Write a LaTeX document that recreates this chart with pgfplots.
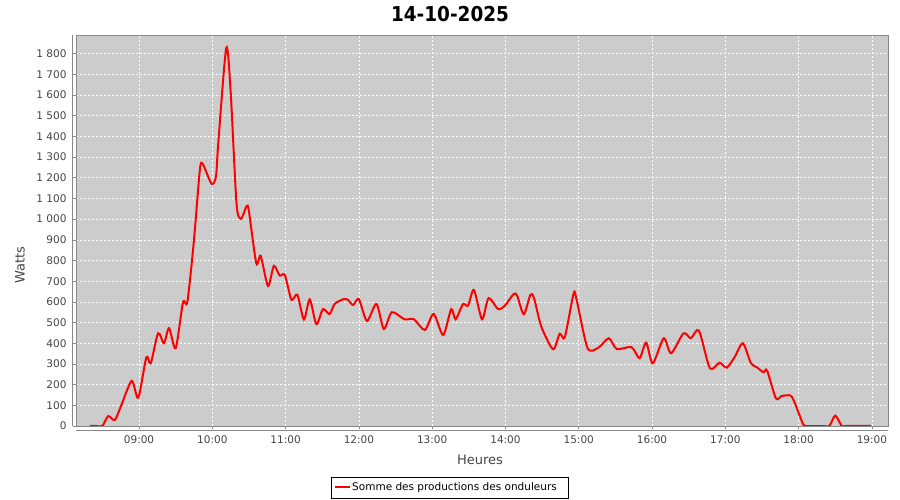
\documentclass[border=0pt]{standalone}
\usepackage{fontspec}
\setmainfont{DejaVu Sans}
\newfontfamily\titlefont{DejaVu Sans Condensed}
\usepackage{pgfplots}
\pgfplotsset{compat=1.18}
\definecolor{plotbg}{HTML}{CCCCCC}
\definecolor{ticklab}{HTML}{444444}
\definecolor{axline}{HTML}{888888}
\begin{document}
\begin{tikzpicture}[x=1pt,y=1pt]
\path[use as bounding box] (0,0) rectangle (900,500);
\begin{axis}[
  at={(76pt,74pt)}, anchor=south west,
  scale only axis, width=812pt, height=391pt,
  xmin=8.14, xmax=19.22, ymin=0, ymax=1890,
  axis background/.style={fill=plotbg},
  axis line style={draw=axline},
  xtick={9,10,...,19},
  xticklabels={09:00,10:00,11:00,12:00,13:00,14:00,15:00,16:00,17:00,18:00,19:00},
  ytick={0,100,...,1800},
  /pgf/number format/assume math mode=true,
  /pgf/number format/1000 sep={\ },
  tick label style={font=\fontsize{10.5}{12}\selectfont, text=ticklab},
  tick align=outside, major tick length=3pt,
  tick style={draw=axline, line width=0.5pt},
  xtick pos=bottom, ytick pos=left,
  grid=major,
  major grid style={draw=white, dash pattern=on 2pt off 2pt, line width=0.5pt},
  yticklabel style={xshift=-3pt},
  xticklabel style={yshift=-3pt},
  clip=true,
]
\addplot[red, line width=2pt, smooth, tension=0.45] coordinates {
(8.33,0) (8.42,0) (8.50,0) (8.58,48) (8.67,29) (8.76,102) (8.90,218) (8.99,137)
(9.10,332) (9.16,303) (9.26,448) (9.34,400) (9.41,473) (9.50,376) (9.60,597) (9.66,601)
(9.75,900) (9.83,1238) (9.87,1266) (9.99,1171) (10.05,1206) (10.08,1360) (10.19,1827)
(10.25,1617) (10.33,1077) (10.39,1001) (10.47,1064) (10.50,1037) (10.60,787) (10.66,822)
(10.76,677) (10.84,774) (10.92,727) (10.99,730) (11.08,610) (11.16,635) (11.25,515)
(11.33,612) (11.42,492) (11.51,565) (11.60,541) (11.67,590) (11.79,613) (11.85,610)
(11.92,585) (12.00,613) (12.11,508) (12.24,590) (12.34,469) (12.45,550) (12.62,516)
(12.75,516) (12.90,464) (13.02,542) (13.15,440) (13.26,565) (13.32,516) (13.42,589)
(13.49,582) (13.57,658) (13.68,516) (13.77,618) (13.90,565) (13.99,581) (14.11,637)
(14.16,630) (14.25,540) (14.34,634) (14.39,618) (14.49,480) (14.65,371) (14.74,446)
(14.81,430) (14.93,640) (14.97,612) (15.12,377) (15.27,379) (15.41,424) (15.52,372)
(15.72,381) (15.83,328) (15.92,403) (16.01,303) (16.16,424) (16.26,352) (16.43,448)
(16.53,424) (16.64,461) (16.79,279) (16.92,306) (17.02,282) (17.13,335) (17.24,400)
(17.35,303) (17.43,284) (17.52,260) (17.57,268) (17.69,134) (17.77,145) (17.89,147)
(17.95,110) (18.06,10) (18.11,0) (18.34,0) (18.42,0) (18.50,50) (18.59,0) (18.65,0) (18.99,0)
};
\end{axis}
% offset axis lines
\draw[axline, line width=0.6pt] (72,74) -- (72,465);
\draw[axline, line width=0.6pt] (76,70) -- (888,70);
% title
\node[font=\titlefont\bfseries\fontsize{20.5}{24}\selectfont] at (450,486) {14-10-2025};
% axis labels
\node[rotate=90, font=\fontsize{13}{15}\selectfont, text=ticklab] at (20,235) {Watts};
\node[font=\fontsize{13}{15}\selectfont, text=ticklab] at (480,40) {Heures};
% legend
\draw[black, line width=0.6pt] (331,2) rectangle (568,23);
\draw[red, line width=2pt] (335,12.5) -- (350,12.5);
\node[anchor=west, font=\fontsize{10.5}{12}\selectfont, inner sep=0] at (352,12.5) {Somme des productions des onduleurs};
\end{tikzpicture}
\end{document}
